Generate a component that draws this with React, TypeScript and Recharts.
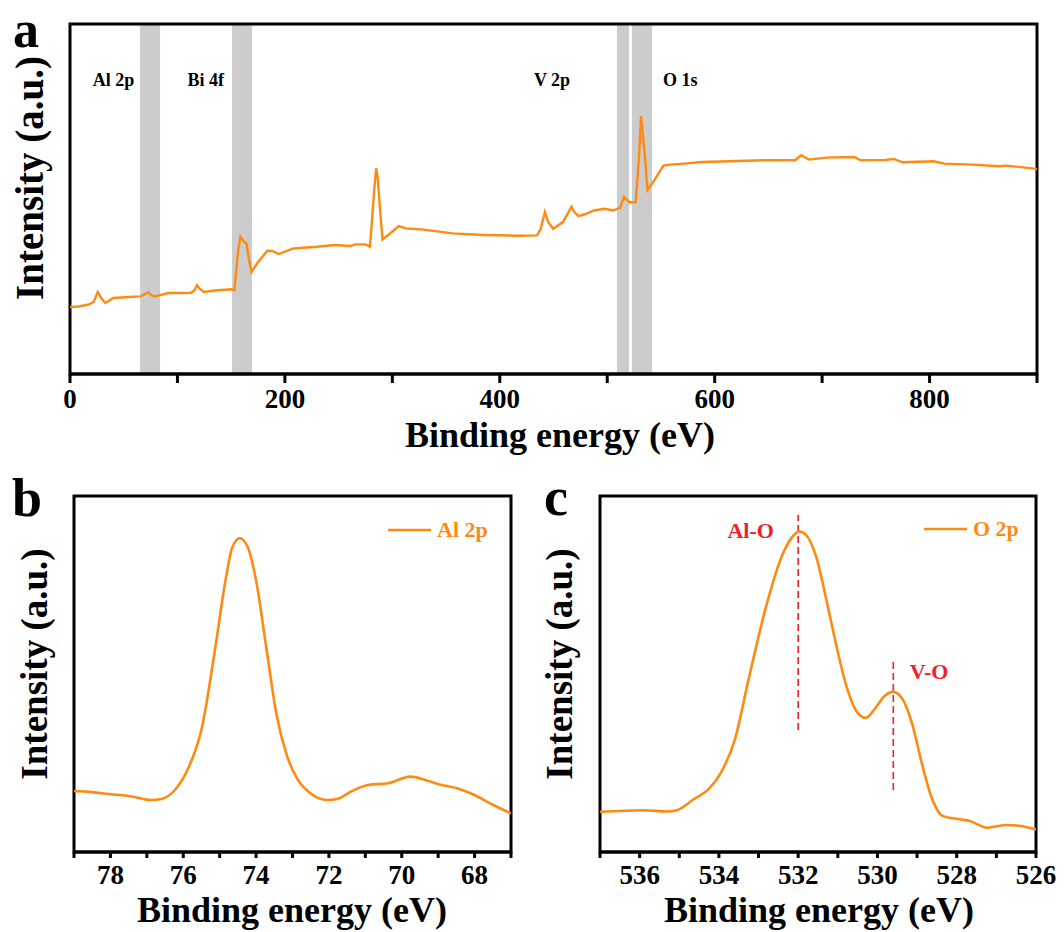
import React from 'react';
import {
  LineChart,
  Line,
  XAxis,
  YAxis,
  ReferenceArea,
  ReferenceDot,
  ReferenceLine,
  Legend,
} from 'recharts';

// survey spectrum (a)
const surveyEnergy = [
  0, 8, 17.7, 22, 25.8, 29, 32.8, 36, 40.3, 55, 66, 73.1, 76, 79, 91.8, 100, 112.7, 116, 118.2, 121,
  124.6, 135, 149.8, 153, 156.2, 158.5, 160, 161.5, 164.3, 166.5, 169, 174, 183.6, 188.4, 194.2, 207.7,
  230, 246.4, 261, 265.7, 275.4, 279.2, 281.5, 283.4, 285, 286.5, 287.6, 290.8, 296.3, 306, 312.4, 327,
  356, 384.9, 417, 434.8, 438, 442, 445, 449.7, 458.7, 466.8, 469.5, 473.2, 480, 487.7, 497.4, 505.5,
  511.9, 515.6, 520.6, 526.5, 529.5, 531.5, 533.5, 535.5, 537.5, 544.2, 552.3, 558.7, 571.6, 587.7,
  613.5, 645.8, 674.8, 680.6, 687.7, 703.9, 729.7, 736, 758.7, 766.7, 774.8, 803.9, 813.5, 839.4,
  865.2, 871.6, 897.4, 900,
];
const surveyIntensity = [
  67, 67.5, 69.6, 72, 82, 76, 71, 73, 76, 77, 77.6, 81.7, 78.5, 77.6, 81, 81, 81.3, 84, 88.7, 85,
  82, 83.5, 84.7, 83.7, 120.5, 137.3, 135, 132.5, 130.6, 115, 102, 110.5, 123.2, 123, 120, 125.5,
  127.2, 129, 128, 129.6, 129.6, 127.2, 160, 187.5, 206, 195, 177.5, 134.6, 139, 148, 145.6, 144.6,
  140.6, 139, 138.3, 138.6, 145, 162, 152, 145.2, 151.9, 167.2, 162, 157.9, 160, 163.5, 165.2, 163.5,
  166.2, 177, 171.8, 171.8, 215, 258, 235, 212, 184, 194.4, 208.4, 209.4, 210.4, 212,
  212.7, 213.7, 213.7, 218.7, 214.4, 216.4, 217, 213.7, 214, 215, 211.7, 212.7, 210.4, 209.4,
  207.7, 208.4, 205.4, 205,
];
const surveyBandStart = [65.2, 150.8, 509, 523];
const surveyBandEnd = [83.8, 169.4, 520.3, 541.7];
const surveyLabels = ['Al 2p', 'Bi 4f', 'V 2p', 'O 1s'];
const surveyLabelEnergy = [40.6, 126.4, 448.6, 568];
const surveyLabelLevel = 294;
const surveyTicks = [0, 100, 200, 300, 400, 500, 600, 700, 800, 900];
const surveyTickLabels = [0, 200, 400, 600, 800];

// Al 2p (b)
const al2pEnergy = [
  79, 78.65, 78, 77.53, 77.26, 76.88, 76.6, 76.23, 75.86, 75.49, 75.12, 74.84, 74.65, 74.45, 74.23,
  74, 73.72, 73.44, 73.16, 72.88, 72.51, 72.05, 71.77, 71.4, 70.93, 70.37, 69.77, 69.35, 68.98, 68.42,
  68.05, 67.49, 67,
];
const al2pIntensity = [
  61, 60.4, 57.7, 56.3, 54.3, 52, 53, 62, 84, 124, 204.5, 271.5, 305, 313.8, 305,
  271.5, 204.5, 137.5, 97.2, 73.8, 58.7, 52, 53, 60.4, 67, 68.7, 75.4, 72, 67.7, 63,
  57.7, 47, 38.6,
];
const al2pTicks = [79, 78, 77, 76, 75, 74, 73, 72, 71, 70, 69, 68, 67];
const al2pTickLabels = [78, 76, 74, 72, 70, 68];

// O 2p (c)
const o2pEnergy = [
  537, 535.91, 535.31, 535.06, 534.63, 534.28, 533.94, 533.6, 533.25, 532.82, 532.39, 532.12, 531.97,
  531.79, 531.54, 531.28, 531.02, 530.76, 530.5, 530.29, 530.08, 529.82, 529.61, 529.39, 529.13,
  528.88, 528.62, 528.36, 527.93, 527.67, 527.24, 526.73, 526.39, 526,
];
const o2pIntensity = [
  40.2, 41.8, 40.5, 41.8, 53, 62.1, 80, 112.1, 172.9, 243.9, 297.9, 316.5, 320.5,
  316.5, 294.5, 250.6, 203.3, 162.8, 139.1, 134.1, 142.5, 156, 160.1, 154.3, 129,
  88.5, 53, 36.1, 32.7, 31, 24.3, 27, 26, 22.6,
];
const o2pTicks = [537, 536, 535, 534, 533, 532, 531, 530, 529, 528, 527, 526];
const o2pTickLabels = [536, 534, 532, 530, 528, 526];
const bondNames = ['Al-O', 'V-O'];
const bondEnergy = [532, 529.6];
const bondLineFrom = [122, 62];
const bondLineTo = [337, 190];
const bondLabelEnergy = [533.2, 528.7];
const bondLabelLevel = [322, 181];

const FONT = "'Liberation Serif', 'Times New Roman', Times, serif";
const ORANGE = '#ff8a12';
const RED = '#f0202a';

const surveyData = surveyEnergy.map((e, i) => ({ e, v: surveyIntensity[i] }));
const al2pData = al2pEnergy.map((e, i) => ({ e, v: al2pIntensity[i] }));
const o2pData = o2pEnergy.map((e, i) => ({ e, v: o2pIntensity[i] }));

const makeTick = (labels: number[], dy: number) => (props: any) => {
  const { x, y, payload } = props;
  if (!labels.includes(payload.value)) return <g />;
  return (
    <text
      x={x}
      y={y}
      dy={dy}
      textAnchor="middle"
      fontFamily={FONT}
      fontWeight="bold"
      fontSize={27}
      fill="#000"
    >
      {payload.value}
    </text>
  );
};

const axisLine = { stroke: '#000', strokeWidth: 3 };

function LegendBox({ name }: { name: string }) {
  return (
    <div style={{ display: 'flex', alignItems: 'center', fontFamily: FONT, whiteSpace: 'nowrap' }}>
      <svg width={46} height={6}>
        <line x1={0} y1={3} x2={43} y2={3} stroke={ORANGE} strokeWidth={2.6} />
      </svg>
      <span style={{ color: ORANGE, fontWeight: 'bold', fontSize: 22, marginLeft: 3 }}>{name}</span>
    </div>
  );
}

export default function App() {
  return (
    <div style={{ position: 'absolute', left: 0, top: 0, width: 1064, height: 932, background: '#fff' }}>
      {/* a: survey */}
      <div style={{ position: 'absolute', left: 0, top: 0 }}>
        <LineChart width={1064} height={460} data={surveyData} margin={{ left: 70, right: 27, top: 24, bottom: 26 }}>
          <XAxis
            dataKey="e"
            type="number"
            domain={[0, 900]}
            ticks={surveyTicks}
            interval={0}
            allowDataOverflow
            height={60}
            axisLine={axisLine}
            tickLine={axisLine}
            tickSize={9}
            tick={makeTick(surveyTickLabels, 23)}
          />
          <YAxis type="number" domain={[0, 350]} hide allowDataOverflow />
          {surveyBandStart.map((s, i) => (
            <ReferenceArea key={'band' + i} x1={s} x2={surveyBandEnd[i]} fill="#cccccc" fillOpacity={1} stroke="none" />
          ))}
          <ReferenceArea x1={0} x2={900} y1={0} y2={350} fill="none" stroke="#000" strokeWidth={3} />
          {surveyLabels.map((name, i) => (
            <ReferenceDot
              key={name}
              x={surveyLabelEnergy[i]}
              y={surveyLabelLevel}
              r={0}
              fill="none"
              stroke="none"
              label={{ value: name, position: 'center', fill: '#000', fontSize: 18, fontWeight: 'bold', fontFamily: FONT }}
            />
          ))}
          <Line dataKey="v" type="linear" stroke={ORANGE} strokeWidth={2.4} dot={false} isAnimationActive={false} />
        </LineChart>
      </div>

      {/* b: Al 2p */}
      <div style={{ position: 'absolute', left: 0, top: 460 }}>
        <LineChart width={530} height={472} data={al2pData} margin={{ left: 74, right: 19, top: 36, bottom: 20 }}>
          <XAxis
            dataKey="e"
            type="number"
            domain={[67, 79]}
            reversed
            ticks={al2pTicks}
            interval={0}
            allowDataOverflow
            height={60}
            axisLine={axisLine}
            tickLine={axisLine}
            tickSize={6}
            tick={makeTick(al2pTickLabels, 24)}
          />
          <YAxis type="number" domain={[0, 356]} hide />
          <ReferenceArea x1={67} x2={79} y1={0} y2={356} fill="none" stroke="#000" strokeWidth={3} />
          <Legend
            layout="vertical"
            align="center"
            verticalAlign="middle"
            wrapperStyle={{ left: 388, top: 57, width: 'auto' }}
            content={() => <LegendBox name="Al 2p" />}
          />
          <Line dataKey="v" name="Al 2p" type="monotone" stroke={ORANGE} strokeWidth={2.6} dot={false} isAnimationActive={false} />
        </LineChart>
      </div>

      {/* c: O 2p */}
      <div style={{ position: 'absolute', left: 530, top: 460 }}>
        <LineChart width={534} height={472} data={o2pData} margin={{ left: 70, right: 28, top: 36, bottom: 20 }}>
          <XAxis
            dataKey="e"
            type="number"
            domain={[526, 537]}
            reversed
            ticks={o2pTicks}
            interval={0}
            allowDataOverflow
            height={60}
            axisLine={axisLine}
            tickLine={axisLine}
            tickSize={6}
            tick={makeTick(o2pTickLabels, 24)}
          />
          <YAxis type="number" domain={[0, 356]} hide />
          <ReferenceArea x1={526} x2={537} y1={0} y2={356} fill="none" stroke="#000" strokeWidth={3} />
          {bondNames.map((name, i) => (
            <ReferenceLine
              key={'l' + name}
              segment={[
                { x: bondEnergy[i], y: bondLineFrom[i] },
                { x: bondEnergy[i], y: bondLineTo[i] },
              ]}
              stroke={RED}
              strokeWidth={1.6}
              strokeDasharray="7 4"
            />
          ))}
          {bondNames.map((name, i) => (
            <ReferenceDot
              key={'d' + name}
              x={bondLabelEnergy[i]}
              y={bondLabelLevel[i]}
              r={0}
              fill="none"
              stroke="none"
              label={{ value: name, position: 'center', fill: RED, fontSize: 22, fontWeight: 'bold', fontFamily: FONT }}
            />
          ))}
          <Legend
            layout="vertical"
            align="center"
            verticalAlign="middle"
            wrapperStyle={{ left: 394, top: 56, width: 'auto' }}
            content={() => <LegendBox name="O 2p" />}
          />
          <Line dataKey="v" name="O 2p" type="monotone" stroke={ORANGE} strokeWidth={2.6} dot={false} isAnimationActive={false} />
        </LineChart>
      </div>

      {/* panel letters and axis titles */}
      <svg
        width={1064}
        height={932}
        style={{ position: 'absolute', left: 0, top: 0, pointerEvents: 'none' }}
        fontFamily={FONT}
        fontWeight="bold"
      >
        <text x={26} y={47} fontSize={52} textAnchor="middle">a</text>
        <text x={27} y={516} fontSize={54} textAnchor="middle">b</text>
        <text x={556} y={515} fontSize={54} textAnchor="middle">c</text>

        <text x={560} y={447} fontSize={36} textAnchor="middle">Binding energy (eV)</text>
        <text x={292} y={922} fontSize={36} textAnchor="middle">Binding energy (eV)</text>
        <text x={819} y={922} fontSize={36} textAnchor="middle">Binding energy (eV)</text>

        <text transform="translate(43,178) rotate(-90)" fontSize={39} textAnchor="middle">Intensity (a.u.)</text>
        <text transform="translate(47,664) rotate(-90)" fontSize={37} textAnchor="middle">Intensity (a.u.)</text>
        <text transform="translate(572,664) rotate(-90)" fontSize={37} textAnchor="middle">Intensity (a.u.)</text>
      </svg>
    </div>
  );
}
